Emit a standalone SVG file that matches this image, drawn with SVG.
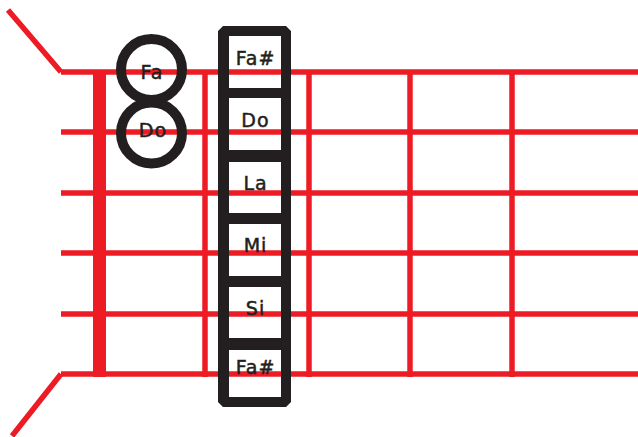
<svg xmlns="http://www.w3.org/2000/svg" width="638" height="437" viewBox="0 0 638 437">
<style>
.r{stroke:#ed1c24;stroke-width:5.5;fill:none}
.nut{stroke:#ed1c24;stroke-width:13;fill:none}
.ring{stroke:#231f20;stroke-width:10;fill:none}
.t{font-family:"DejaVu Sans",sans-serif;font-size:19px;fill:#231f20;stroke:#231f20;stroke-width:0.5px;text-anchor:middle;dominant-baseline:central;letter-spacing:1px}
</style>
<rect width="638" height="437" fill="#fff"/>
<g id="connectors">
<path class="r" d="M8,10 L61,72 M61,374 L12,436"/>
<path class="r" d="M61,72 H638 M61,132 H638 M61,193 H638 M61,253 H638 M61,314 H638 M61,374 H638"/>
<path class="r" d="M205,72 V377 M309,72 V377 M410,72 V377 M512,72 V377"/>
<path class="nut" d="M99.5,72 V377"/>
</g>
<g id="node-fa">
<circle class="ring" cx="151.5" cy="69.5" r="30.5"/>
<text class="t" x="152" y="72">Fa</text>
</g>
<g id="node-do">
<circle class="ring" cx="151.5" cy="133" r="30.5"/>
<text class="t" x="153" y="130">Do</text>
</g>
<g id="column">
<path fill="#231f20" fill-rule="evenodd" d="M223,26 H286 L291,31 V402 L286,407 H223 L218,402 V31 Z M229,36 V88 H281 V36 Z M229,98 V150 H281 V98 Z M229,162 V213 H281 V162 Z M229,224 V276 H281 V224 Z M229,287 V338 H281 V287 Z M229,350 V397 H281 V350 Z"/>
</g>
<g id="node-cell1"><text class="t" x="255.5" y="57.5">Fa#</text></g>
<g id="node-cell2"><text class="t" x="255.5" y="120">Do</text></g>
<g id="node-cell3"><text class="t" x="255.5" y="182.5">La</text></g>
<g id="node-cell4"><text class="t" x="255.5" y="245">Mi</text></g>
<g id="node-cell5"><text class="t" x="255.5" y="308">Si</text></g>
<g id="node-cell6"><text class="t" x="255.5" y="367">Fa#</text></g>
</svg>
